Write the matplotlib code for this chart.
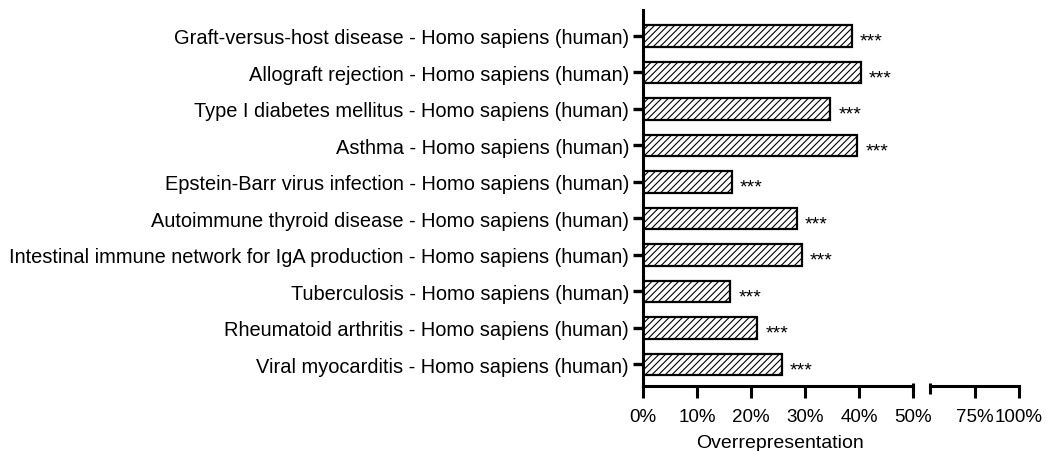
import numpy as np
import matplotlib
matplotlib.use("Agg")
import matplotlib.pyplot as plt

plt.rcParams['font.family'] = ['Liberation Sans', 'DejaVu Sans']
plt.rcParams['hatch.linewidth'] = 0.8

# Données
categories = [
    "Graft-versus-host disease - Homo sapiens (human)",
    "Allograft rejection - Homo sapiens (human)",
    "Type I diabetes mellitus - Homo sapiens (human)",
    "Asthma - Homo sapiens (human)",
    "Epstein-Barr virus infection - Homo sapiens (human)",
    "Autoimmune thyroid disease - Homo sapiens (human)",
    "Intestinal immune network for IgA production - Homo sapiens (human)",
    "Tuberculosis - Homo sapiens (human)",
    "Rheumatoid arthritis - Homo sapiens (human)",
    "Viral myocarditis - Homo sapiens (human)",
]
values = [38.7, 40.3, 34.7, 39.7, 16.4, 28.5, 29.4, 16.2, 21.2, 25.7]
signif = ["***"] * len(values)

ticks_1 = [0, 10, 20, 30, 40, 50]
ticks_2 = [75, 100]

W, H = 1046, 452
fig = plt.figure(figsize=(W / 100, H / 100), dpi=100)

bottom = 1 - 387 / H
height = (387 - 11) / H
ax1 = fig.add_axes([643 / W, bottom, 270 / W, height])
ax2 = fig.add_axes([930 / W, bottom, 89 / W, height])

y = np.arange(len(values))
ax1.barh(y, values, height=0.58, color='white', edgecolor='black',
         linewidth=1.6, hatch='/////')
for yi, v, s in zip(y, values, signif):
    ax1.text(v + 1.5, yi + 0.15, s, ha='left', va='center', fontsize=14)

for ax in (ax1, ax2):
    ax.set_ylim(9.59, -0.71)
    ax.spines['top'].set_visible(False)
    ax.spines['right'].set_visible(False)
    ax.spines['bottom'].set_linewidth(2.2)
    ax.tick_params(axis='x', length=8.5, width=2.2, labelsize=13.5, pad=7)

ax1.spines['left'].set_linewidth(2.2)
ax1.set_xlim(0, 50)
ax1.set_xticks(ticks_1)
ax1.set_xticklabels([f"{t}%" for t in ticks_1])
ax1.set_yticks(y)
ax1.set_yticklabels(categories, fontsize=14.4)
ax1.tick_params(axis='y', length=7, width=2.4, pad=3)

ax2.set_xlim(50, 100)
ax2.set_xticks(ticks_2)
ax2.set_xticklabels([f"{t}%" for t in ticks_2])
ax2.spines['left'].set_visible(False)
ax2.set_yticks([])
ax2.patch.set_alpha(0)

# Coupure de l'axe
ax1.plot([1, 1], [0.008, -0.022], transform=ax1.transAxes, color='black',
         linewidth=2.2, clip_on=False, solid_capstyle='butt')
ax2.plot([0, 0], [0.008, -0.022], transform=ax2.transAxes, color='black',
         linewidth=2.2, clip_on=False, solid_capstyle='butt')

fig.text(780 / W, 1 - 444 / H, "Overrepresentation", ha='center', va='center',
         fontsize=14)

fig.savefig("out.png", dpi=100)
